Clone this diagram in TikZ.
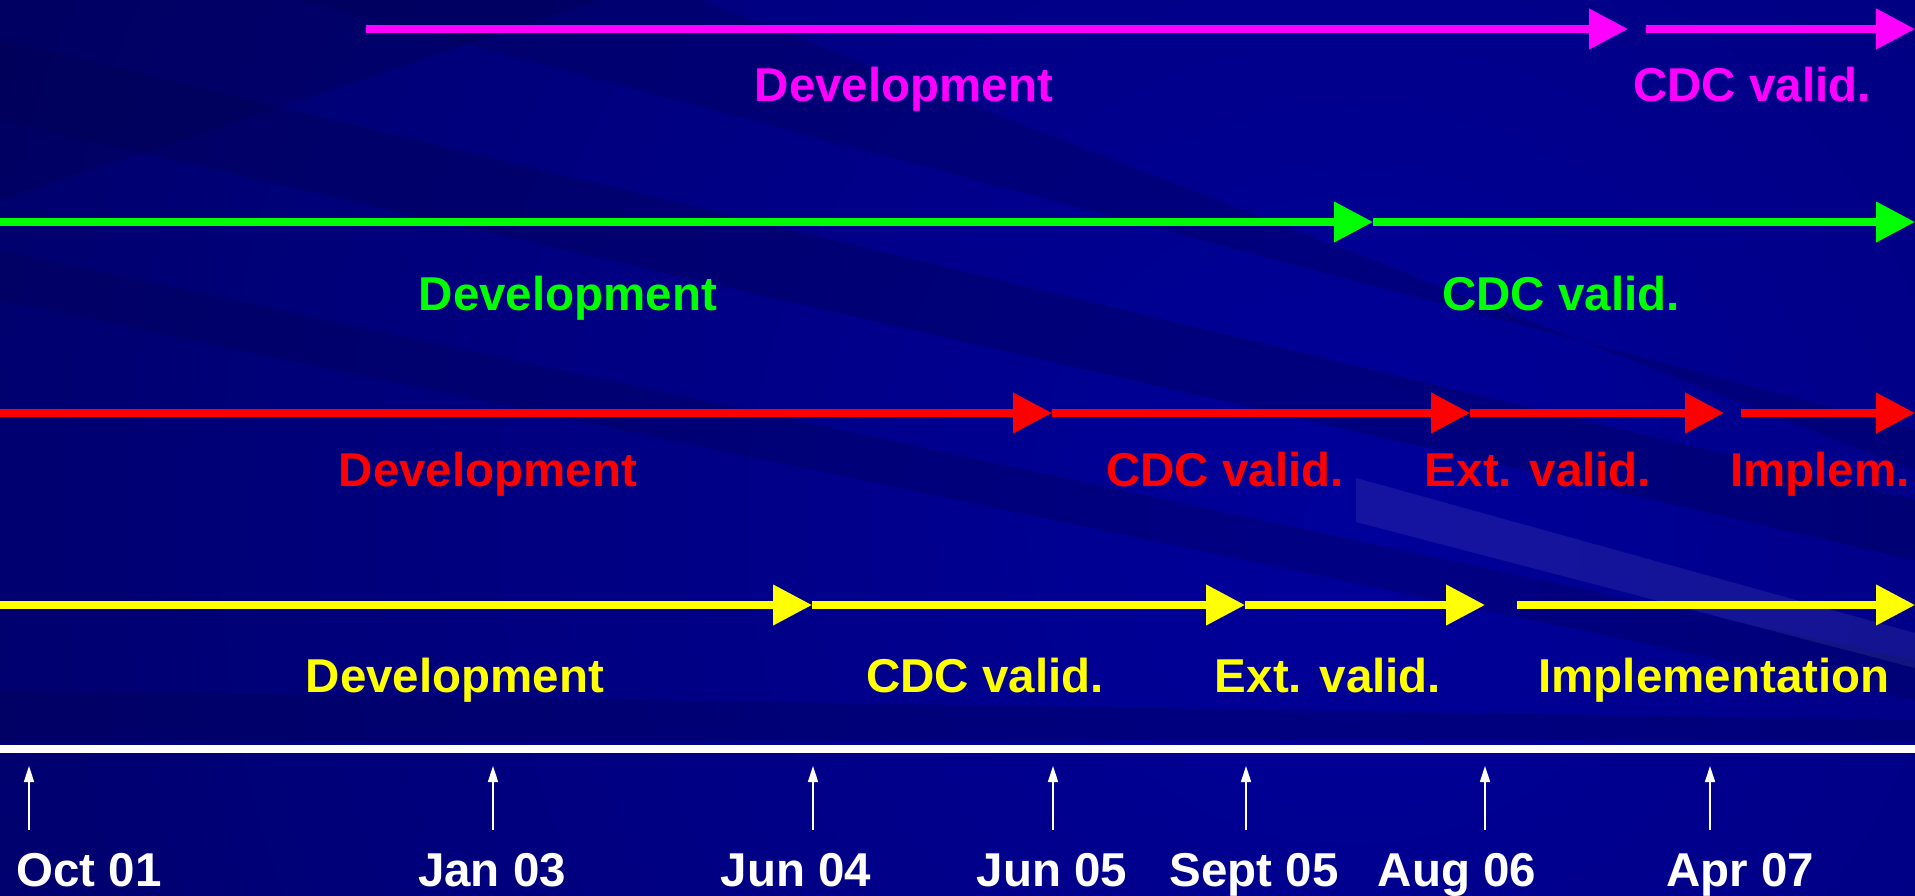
\documentclass[tikz,border=0pt]{standalone}
\usepackage{fontspec}
\setmainfont{Liberation Sans}
\usetikzlibrary{arrows.meta}
\definecolor{bgmain}{RGB}{0,0,155}
\definecolor{bgdark}{RGB}{0,0,105}
\definecolor{bgdeep}{RGB}{0,0,80}
\definecolor{mag}{RGB}{255,0,255}
\definecolor{grn}{RGB}{0,255,0}
\definecolor{rd}{RGB}{255,0,0}
\definecolor{yel}{RGB}{255,255,0}
\begin{document}
\begin{tikzpicture}[x=1pt,y=-1pt,
  phase/.style={line width=7.5pt, -{Triangle[length=39pt,width=39pt]}},
  lbl/.style={font=\fontsize{47.5}{50}\selectfont\bfseries, anchor=base, inner sep=0pt},
  tickarrow/.style={white, line width=1.6pt, -{Triangle[length=16pt,width=10pt]}}]
\useasboundingbox (0,0) rectangle (1915,896);
% background
\fill[bgmain] (0,0) rectangle (1915,896);
\begin{scope}
\clip (0,0) rectangle (1915,896);
\shade[inner color=bgmain, outer color=bgdark] (1350,520) circle (1550);
\fill[bgdeep, opacity=0.35] (0,40) -- (0,120) -- (1915,560) -- (1915,500) -- cycle;
\fill[bgdeep, opacity=0.3] (0,250) -- (0,300) -- (1915,700) -- (1915,660) -- cycle;
\fill[bgdeep, opacity=0.3] (300,0) -- (700,0) -- (1915,470) -- (1915,430) -- cycle;
\fill[bgdeep, opacity=0.35] (0,0) -- (600,0) -- (0,200) -- cycle;
\fill[white, opacity=0.08] (1356,478) -- (1356,522) -- (1915,668) -- (1915,633) -- cycle;
\fill[bgdeep, opacity=0.3] (0,690) -- (0,740) -- (1915,740) -- (1915,720) -- cycle;
\end{scope}
% row coordinates
\coordinate (m0) at (366,29);  \coordinate (m1) at (1628,29);
\coordinate (m2) at (1646,29); \coordinate (m3) at (1915,29);
\coordinate (g0) at (0,222);   \coordinate (g1) at (1373,222);
\coordinate (g2) at (1915,222);
\coordinate (r0) at (0,413);   \coordinate (r1) at (1052,413);
\coordinate (r2) at (1470,413); \coordinate (r3) at (1724,413);
\coordinate (r4) at (1741,413); \coordinate (r5) at (1915,413);
\coordinate (y0) at (0,605);   \coordinate (y1) at (812,605);
\coordinate (y2) at (1245,605); \coordinate (y3) at (1485,605);
\coordinate (y4) at (1517,605); \coordinate (y5) at (1915,605);
% magenta
\draw[phase, mag] (m0) -- (m1);
\draw[phase, mag] (m2) -- (m3);
\node[lbl, mag] (mdev) at (904,102) {Development};
\node[lbl, mag] (mcdc) at (1752,102) {CDC valid.};
% green
\draw[phase, grn] (g0) -- (g1);
\draw[phase, grn] (g1) -- (g2);
\node[lbl, grn] (gdev) at (568,310) {Development};
\node[lbl, grn] (gcdc) at (1561,310) {CDC valid.};
% red
\draw[phase, rd] (r0) -- (r1);
\draw[phase, rd] (r1) -- (r2);
\draw[phase, rd] (r2) -- (r3);
\draw[phase, rd] (r4) -- (r5);
\node[lbl, rd] (rdev) at (488,486) {Development};
\node[lbl, rd] (rcdc) at (1225,486) {CDC valid.};
\node[lbl, rd] (rext) at (1538,486) {Ext. valid.};
\node[lbl, rd] (rimp) at (1820,486) {Implem.};
% yellow
\draw[phase, yel] (y0) -- (y1);
\draw[phase, yel] (y1) -- (y2);
\draw[phase, yel] (y2) -- (y3);
\draw[phase, yel] (y4) -- (y5);
\node[lbl, yel] (ydev) at (455,692) {Development};
\node[lbl, yel] (ycdc) at (985,692) {CDC valid.};
\node[lbl, yel] (yext) at (1328,692) {Ext. valid.};
\node[lbl, yel] (yimp) at (1714,692) {Implementation};
% timeline
\coordinate (tl0) at (0,749); \coordinate (tl1) at (1915,749);
\draw[white, line width=8pt] (tl0) -- (tl1);
\foreach \n/\x/\cx/\t in {a/29/89/Oct 01, b/493/492/Jan 03, c/813/796/Jun 04, d/1053/1052/Jun 05, e/1246/1254/Sept 05, f/1485/1457/Aug 06, g/1710/1740/Apr 07}{
  \coordinate (tb\n) at (\x,830);
  \coordinate (tt\n) at (\x,766);
  \draw[tickarrow] (tb\n) -- (tt\n);
  \node[lbl, white] (date\n) at (\cx,886) {\t};
}
\end{tikzpicture}
\end{document}
